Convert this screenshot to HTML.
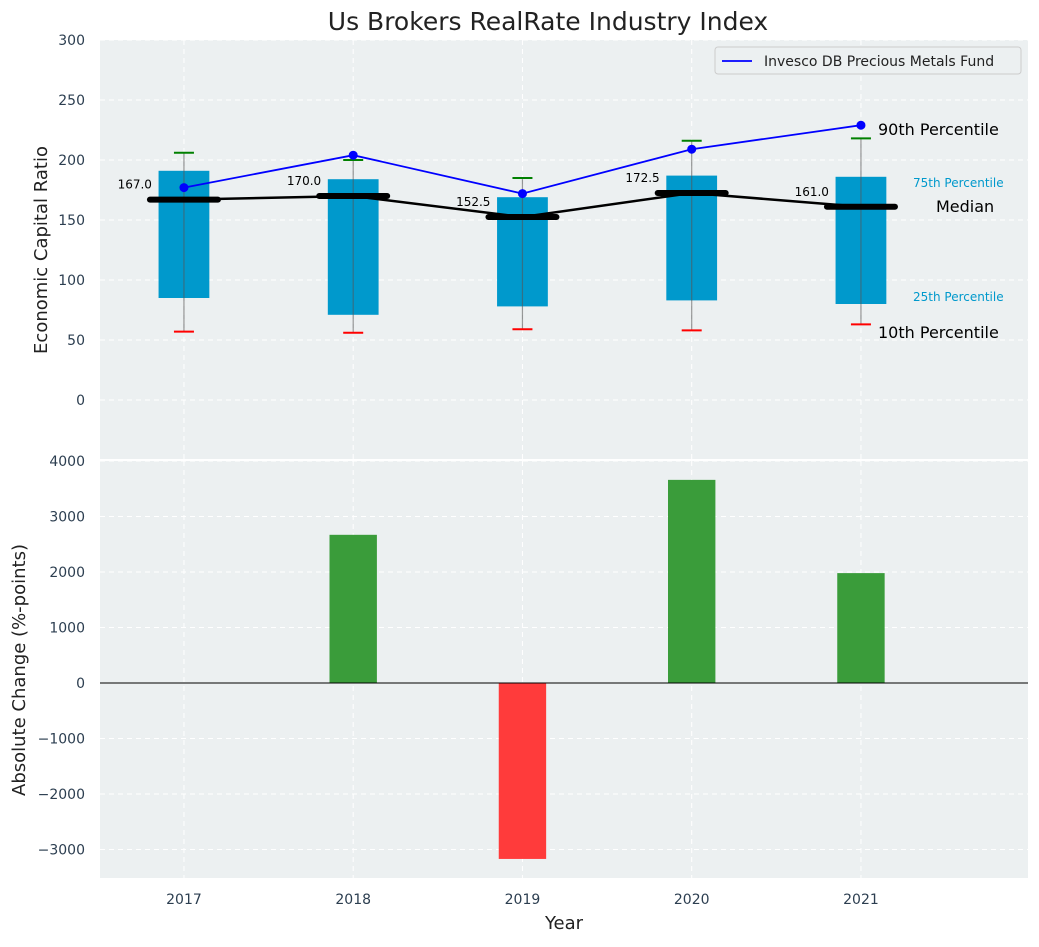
<!DOCTYPE html>
<html><head><meta charset="utf-8"><style>
body{margin:0;background:#fff;font-family:"Liberation Sans","DejaVu Sans",sans-serif}
svg text{font-family:"DejaVu Sans","Liberation Sans",sans-serif}
</style></head><body>
<svg id="c" width="1039" height="942" xmlns="http://www.w3.org/2000/svg"></svg>
<script>
const years=[2017,2018,2019,2020,2021];
const p25=[85,71,78,83,80];
const p75=[191,184,169,187,186];
const p10=[57,56,59,58,63];
const p90=[206,200,185,216,218];
const medians=[167,170,152.5,172.5,161];
const fund=[177,204,172,209,229];
const changes=[0,2670,-3170,3660,1980];
const topTicks=[0,50,100,150,200,250,300];
const botTicks=[-3000,-2000,-1000,0,1000,2000,3000,4000];

const NS="http://www.w3.org/2000/svg";
const svg=document.getElementById('c');
function mk(t,a,p){const e=document.createElementNS(NS,t);for(const k in a)e.setAttribute(k,a[k]);(p||svg).appendChild(e);return e;}
const L=100,R=1028;
const XMIN=2016.504,XMAX=2021.987;
const x=v=>L+(v-XMIN)/(XMAX-XMIN)*(R-L);
const yT=v=>400-v*1.2;
const yB=v=>683-v*0.0555;

let e=mk('rect',{x:L,y:40,width:R-L,height:419,fill:'#ecf0f1'});

e=mk('rect',{x:L,y:461,width:R-L,height:417,fill:'#ecf0f1'});


topTicks.forEach(t=>{mk('line',{x1:L,x2:R,y1:yT(t),y2:yT(t),stroke:'#fff','stroke-dasharray':'5,4','stroke-width':1});
 e=mk('text',{x:85,y:yT(t)+5,'text-anchor':'end','font-size':14,fill:'#2c3e50'});e.textContent=t;
 });
botTicks.forEach(t=>{mk('line',{x1:L,x2:R,y1:yB(t),y2:yB(t),stroke:'#fff','stroke-dasharray':'5,4','stroke-width':1});
 e=mk('text',{x:85,y:yB(t)+5,'text-anchor':'end','font-size':14,fill:'#2c3e50'});e.textContent=(t<0?'\u2212'+(-t):t);
 });
years.forEach(yr=>{mk('line',{x1:x(yr),x2:x(yr),y1:40,y2:459,stroke:'#fff','stroke-dasharray':'5,4'});
 mk('line',{x1:x(yr),x2:x(yr),y1:461,y2:878,stroke:'#fff','stroke-dasharray':'5,4'});
 e=mk('text',{x:x(yr),y:904,'text-anchor':'middle','font-size':14,fill:'#2c3e50'});e.textContent=yr;
 });

const bw=0.3*(R-L)/(XMAX-XMIN);
years.forEach((yr,i)=>{
 const cx=x(yr);
 e=mk('rect',{x:cx-bw/2,y:yT(p75[i]),width:bw,height:yT(p25[i])-yT(p75[i]),fill:'#0099cc'});
 
 mk('line',{x1:cx,x2:cx,y1:yT(p90[i]),y2:yT(p10[i]),stroke:'#555','stroke-opacity':0.6,'stroke-width':1.2});
 e=mk('line',{x1:cx-10,x2:cx+10,y1:yT(p90[i]),y2:yT(p90[i]),stroke:'#008000','stroke-width':2});
 
 e=mk('line',{x1:cx-10,x2:cx+10,y1:yT(p10[i]),y2:yT(p10[i]),stroke:'#ff0000','stroke-width':2});
 
});
e=mk('polyline',{points:years.map((yr,i)=>x(yr)+','+yT(medians[i])).join(' '),fill:'none',stroke:'#000','stroke-width':2.5});

years.forEach((yr,i)=>{const cx=x(yr);
 e=mk('line',{x1:cx-34,x2:cx+34,y1:yT(medians[i]),y2:yT(medians[i]),stroke:'#000','stroke-width':6,'stroke-linecap':'round'});
 
 e=mk('text',{x:cx-32,y:yT(medians[i])-11,'text-anchor':'end','font-size':12,fill:'#000'});e.textContent=medians[i].toFixed(1);
 
});
e=mk('polyline',{points:years.map((yr,i)=>x(yr)+','+yT(fund[i])).join(' '),fill:'none',stroke:'#0000ff','stroke-width':1.8});

years.forEach((yr,i)=>{e=mk('circle',{cx:x(yr),cy:yT(fund[i]),r:4.5,fill:'#0000ff'});
 });

function ann(t,xx,yy,sz,col,nm){e=mk('text',{x:xx,y:yy,'font-size':sz,fill:col});e.textContent=t;}
ann('90th Percentile',878,135,16,'#000','p90-annotation');
ann('75th Percentile',913,187,12,'#0099cc','p75-annotation');
ann('Median',936,212,16,'#000','median-annotation');
ann('25th Percentile',913,301,12,'#0099cc','p25-annotation');
ann('10th Percentile',878,338,16,'#000','p10-annotation');

e=mk('rect',{x:715,y:47,width:306,height:27,fill:'#ecf0f1',stroke:'#ccc',rx:3});

mk('line',{x1:722,x2:752,y1:61,y2:61,stroke:'#0000ff','stroke-width':1.8});
ann('Invesco DB Precious Metals Fund',764,66,14,'#222','legend-label');

const bbw=0.28*(R-L)/(XMAX-XMIN);
years.forEach((yr,i)=>{const v=changes[i];if(v===0)return;
 e=mk('rect',{x:x(yr)-bbw/2,y:Math.min(yB(v),yB(0)),width:bbw,height:Math.abs(yB(v)-yB(0)),fill:v>0?'#3a9c3a':'#ff3b3b'});
 });
mk('line',{x1:L,x2:R,y1:yB(0),y2:yB(0),stroke:'#000','stroke-width':1});

e=mk('text',{x:548,y:30,'text-anchor':'middle','font-size':25,fill:'#222'});e.textContent='Us Brokers RealRate Industry Index';

e=mk('text',{x:564,y:929,'text-anchor':'middle','font-size':18,fill:'#222'});e.textContent='Year';

e=mk('text',{x:47,y:250,'text-anchor':'middle','font-size':18,fill:'#222',transform:'rotate(-90 47 250)'});e.textContent='Economic Capital Ratio';

e=mk('text',{x:25,y:670,'text-anchor':'middle','font-size':18,fill:'#222',transform:'rotate(-90 25 670)'});e.textContent='Absolute Change (%-points)';

</script>
</body></html>
